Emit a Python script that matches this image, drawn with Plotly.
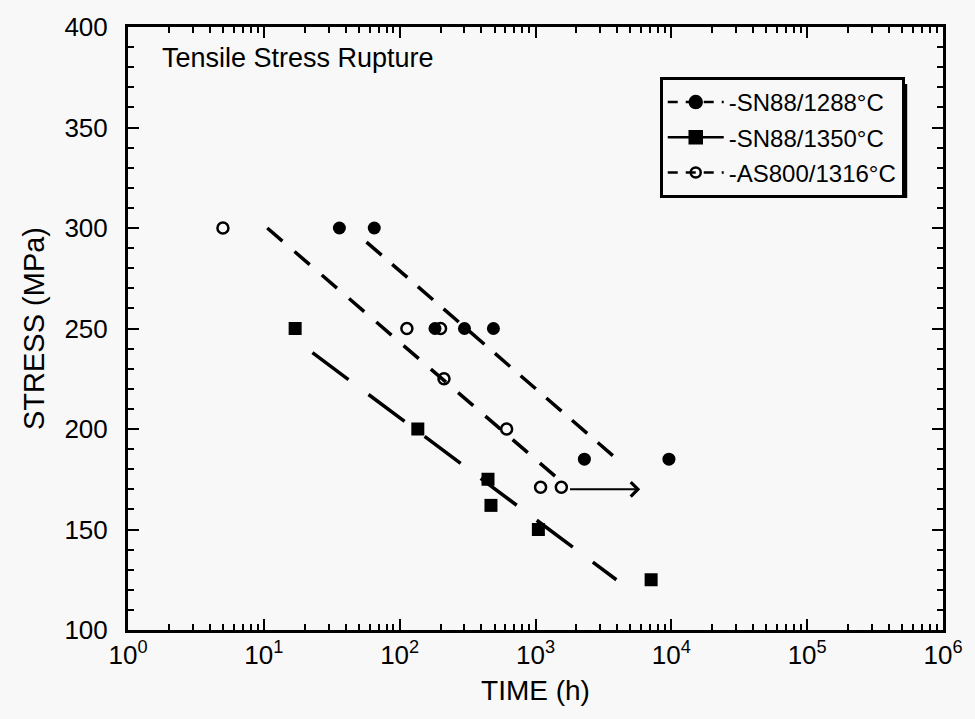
import numpy as np
import plotly.graph_objects as go

# Rupture data: time to failure (h) and applied stress (MPa)
sn88_1288_time = [36, 65, 182, 300, 490, 2290, 9600]
sn88_1288_stress = [300, 300, 250, 250, 250, 185, 185]

sn88_1350_time = [17, 136, 447, 470, 1050, 7100]
sn88_1350_stress = [250, 200, 175, 162, 150, 125]

as800_1316_time = [5, 113, 200, 212, 613, 1090, 1550]
as800_1316_stress = [300, 250, 250, 225, 200, 171, 171]

# Trend lines (end points)
fit_1288_time = [57, 4300]
fit_1288_stress = [293, 183]
fit_1316_time = [10.6, 1480]
fit_1316_stress = [300, 175]
fit_1350_time = [22.8, 3940]
fit_1350_stress = [238, 125]

# Run-out arrow (time span, stress level)
runout_time = [1750, 5900]
runout_stress = 170

x_tick_vals = [1, 10, 100, 1000, 10000, 100000, 1000000]
x_tick_text = ["10<sup>%d</sup>" % i for i in range(7)]
x_minor_vals = [k * 10 ** d for d in range(6) for k in range(2, 10)]
y_tick_vals = [100, 150, 200, 250, 300, 350, 400]

series_names = ["-SN88/1288°C", "-SN88/1350°C", "-AS800/1316°C"]

FONT = "Liberation Sans, Arial, Helvetica, sans-serif"
BG = "#f8f8f8"

fig = go.Figure()

# trend lines
fig.add_trace(go.Scatter(x=fit_1288_time, y=fit_1288_stress, mode="lines",
                         line=dict(color="black", width=3.5, dash="20px,14px"),
                         showlegend=False, hoverinfo="skip"))
fig.add_trace(go.Scatter(x=fit_1316_time, y=fit_1316_stress, mode="lines",
                         line=dict(color="black", width=3.5, dash="20px,16px"),
                         showlegend=False, hoverinfo="skip"))
fig.add_trace(go.Scatter(x=fit_1350_time, y=fit_1350_stress, mode="lines",
                         line=dict(color="black", width=3.5, dash="45px,25px"),
                         showlegend=False, hoverinfo="skip"))

# data points
fig.add_trace(go.Scatter(x=sn88_1288_time, y=sn88_1288_stress, mode="markers",
                         marker=dict(symbol="circle", size=13, color="black"),
                         showlegend=False))
fig.add_trace(go.Scatter(x=sn88_1350_time, y=sn88_1350_stress, mode="markers",
                         marker=dict(symbol="square", size=13, color="black"),
                         showlegend=False))
fig.add_trace(go.Scatter(x=as800_1316_time, y=as800_1316_stress, mode="markers",
                         marker=dict(symbol="circle-open", size=11, color="black",
                                     line=dict(width=2.5, color="black")),
                         showlegend=False))

# legend entries
legend_styles = [
    dict(symbol="circle", size=12, dash="10px,8px"),
    dict(symbol="square", size=12, dash="solid"),
    dict(symbol="circle-open", size=10, dash="10px,8px"),
]
for i, (name, st) in enumerate(zip(series_names, legend_styles)):
    fig.add_trace(go.Scatter(
        x=[None], y=[None], mode="lines+markers", name=name,
        legendgroup="g%d" % i,
        line=dict(color="black", width=2.5, dash=st["dash"]),
        marker=dict(symbol=st["symbol"], size=st["size"], color="black",
                    line=dict(width=2.5, color="black")),
    ))

L, R, T, B = 128, 948, 27, 630
W, H = 975, 719
pw, ph = R - L, B - T


def px_x(p):
    return (p - L) / pw


def px_y(p):
    return 1 - (p - T) / ph


# legend drop shadow
fig.add_shape(type="rect", xref="paper", yref="paper",
              x0=px_x(669), x1=px_x(912), y0=px_y(198), y1=px_y(84),
              fillcolor="black", line=dict(width=0), layer="above")

fig.add_annotation(x=np.log10(runout_time[1]), y=runout_stress,
                   ax=np.log10(runout_time[0]), ay=runout_stress,
                   xref="x", yref="y", axref="x", ayref="y",
                   showarrow=True, arrowhead=4, arrowsize=1.4, arrowwidth=2,
                   arrowcolor="black", text="")

fig.add_annotation(x=px_x(160), y=px_y(58), xref="paper", yref="paper",
                   xanchor="left", yanchor="middle", showarrow=False,
                   text="Tensile Stress Rupture",
                   font=dict(family=FONT, size=27, color="black"))

axis_common = dict(
    showline=True, linecolor="black", linewidth=3, mirror="ticks",
    ticks="inside", ticklen=11, tickwidth=2, tickcolor="black",
    showgrid=False, zeroline=False,
    tickfont=dict(family=FONT, size=26, color="black"),
)

fig.update_xaxes(
    type="log", range=[0, 6],
    tickmode="array", tickvals=x_tick_vals, ticktext=x_tick_text,
    minor=dict(tickmode="array", tickvals=x_minor_vals, ticks="inside",
               ticklen=6, tickwidth=2, tickcolor="black", showgrid=False),
    title=dict(text="TIME (h)", font=dict(family=FONT, size=28, color="black"),
               standoff=12),
    **axis_common,
)
fig.update_yaxes(
    range=[100, 400],
    tickmode="array", tickvals=y_tick_vals,
    minor=dict(dtick=10, ticks="inside", ticklen=6, tickwidth=2,
               tickcolor="black", showgrid=False),
    ticklabelstandoff=12,
    title=dict(text="STRESS (MPa)", font=dict(family=FONT, size=29, color="black"),
               standoff=12),
    **axis_common,
)

fig.update_layout(
    width=W, height=H,
    margin=dict(l=L, r=W - R, t=T, b=H - B),
    paper_bgcolor=BG, plot_bgcolor=BG,
    font=dict(family=FONT, color="black"),
    showlegend=True,
    legend=dict(x=px_x(663), y=px_y(77), xanchor="left", yanchor="top",
                bgcolor=BG, bordercolor="black", borderwidth=3,
                font=dict(family=FONT, size=24, color="black"),
                traceorder="grouped", tracegroupgap=1, itemwidth=56),
)

fig.write_html("out.html")
